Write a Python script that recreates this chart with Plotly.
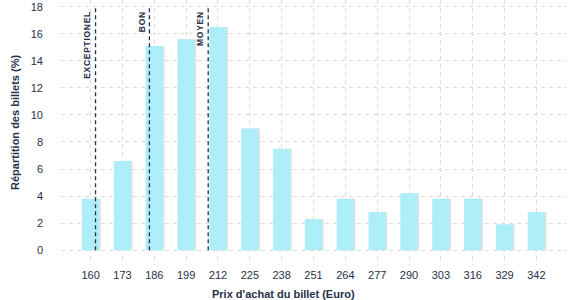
import plotly.graph_objects as go

prices = [160, 173, 186, 199, 212, 225, 238, 251, 264, 277, 290, 303, 316, 329, 342]
shares = [3.8, 6.6, 15.1, 15.6, 16.5, 9.0, 7.5, 2.3, 3.8, 2.8, 4.2, 3.8, 3.8, 1.9, 2.8]
ref_labels = ["EXCEPTIONEL", "BON", "MOYEN"]
ref_prices = [162, 184, 208]
y_ticks = [0, 2, 4, 6, 8, 10, 12, 14, 16, 18]

NAVY = "#27314b"
GRID = "#dcdcdc"
FONT = "Liberation Sans, Arial, sans-serif"

fig = go.Figure()
# subtle shadow on bars
fig.add_trace(go.Bar(x=[p + 0.6 for p in prices], y=shares, width=7.1,
                     marker=dict(color="#e2e2e2", line=dict(width=0)),
                     hoverinfo="skip", showlegend=False))
fig.add_trace(go.Bar(x=prices, y=shares, width=7.1,
                     marker=dict(color="#aeeef8", line=dict(width=0)),
                     showlegend=False))

for lab, xp in zip(ref_labels, ref_prices):
    spaced = "\u200a".join(lab)
    fig.add_shape(type="line", xref="x", yref="y", x0=xp, x1=xp, y0=0, y1=18,
                  line=dict(color=NAVY, width=1.3, dash="4px,3px"))
    fig.add_annotation(x=xp, y=18, xref="x", yref="y", text="<b>" + spaced + "</b>",
                       textangle=-90, xanchor="right", yanchor="top",
                       xshift=-1, yshift=-3, showarrow=False,
                       font=dict(size=8.5, color=NAVY, family=FONT))

fig.add_annotation(x=-0.0909, y=0.536, xref="paper", yref="paper",
                   text="<b>Répartition des billets (%)</b>", textangle=-90,
                   showarrow=False, xanchor="center", yanchor="middle",
                   font=dict(size=11, color=NAVY, family=FONT))
fig.add_annotation(x=0.4407, y=-0.109, xref="paper", yref="paper",
                   text="<b>Prix d'achat du billet (Euro)</b>",
                   showarrow=False, xanchor="center", yanchor="middle",
                   font=dict(size=11, color=NAVY, family=FONT))

fig.update_layout(
    width=577, height=300,
    margin=dict(l=61, r=10, t=0, b=35),
    paper_bgcolor="white", plot_bgcolor="white",
    barmode="overlay",
    font=dict(family=FONT, size=11, color=NAVY),
    xaxis=dict(range=[147.9, 354.5], tickvals=prices, ticktext=[str(p) for p in prices],
               showgrid=True, gridcolor=GRID, griddash="4px,4px", gridwidth=1,
               zeroline=False, showline=False, ticks="", ticklabelstandoff=2,
               tickfont=dict(size=11, color=NAVY)),
    yaxis=dict(range=[-1.1, 18.5], tickvals=y_ticks,
               showgrid=True, gridcolor=GRID, griddash="4px,4px", gridwidth=1,
               zeroline=False, showline=False, ticks="", ticklabelstandoff=17,
               tickfont=dict(size=11, color=NAVY)),
)

fig.write_html("out.html")
